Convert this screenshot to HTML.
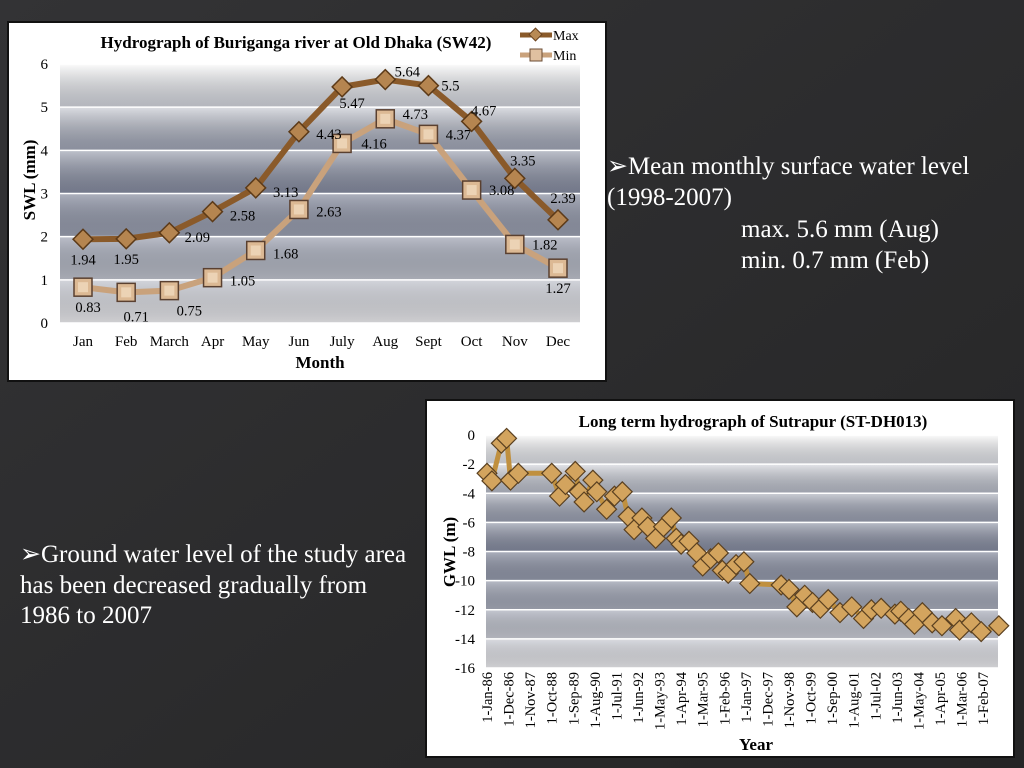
<!DOCTYPE html>
<html><head><meta charset="utf-8">
<style>
html,body{margin:0;padding:0;background:#2a2a2b;}
svg{display:block;font-family:"Liberation Serif",serif;}
</style></head>
<body>
<svg id="root" width="1024" height="768" viewBox="0 0 1024 768" xmlns="http://www.w3.org/2000/svg">
<defs>
<linearGradient id="bgGrad" x1="0" y1="0" x2="1" y2="1">
<stop offset="0" stop-color="#333335"/><stop offset="1" stop-color="#252526"/></linearGradient>
<linearGradient id="plotGrad" x1="0" y1="0" x2="0" y2="1">
<stop offset="0" stop-color="#fafafa"/><stop offset="0.3" stop-color="#a0a5b4"/>
<stop offset="0.5" stop-color="#80869a"/><stop offset="0.72" stop-color="#9ea3b2"/>
<stop offset="1" stop-color="#e6e6e9"/></linearGradient>
<linearGradient id="bandGrad" x1="0" y1="0" x2="0" y2="1">
<stop offset="0" stop-color="#fff" stop-opacity="0.35"/><stop offset="1" stop-color="#000" stop-opacity="0.1"/></linearGradient>
</defs>
<rect width="1024" height="768" fill="url(#bgGrad)"/>

<g>
<rect x="8" y="22" width="598" height="359" fill="#fff" stroke="#111" stroke-width="2"/>
<text x="296" y="48" text-anchor="middle" font-size="17" font-weight="bold">Hydrograph of Buriganga river at Old Dhaka (SW42)</text>
<g id="c1"></g>
<text x="320" y="368" text-anchor="middle" font-size="17" font-weight="bold">Month</text>
<text transform="translate(35,180) rotate(-90)" text-anchor="middle" font-size="17" font-weight="bold">SWL (mm)</text>
<g>
<g><line x1="520" y1="35" x2="552" y2="35" stroke="#8a5a2a" stroke-width="5"/><rect x="531" y="30" width="9" height="9" transform="rotate(45 535.5 34.5)" fill="#b88a55" stroke="#6b4320"/><text x="553" y="40" font-size="14">Max</text></g>
<g><line x1="520" y1="55" x2="552" y2="55" stroke="#c9a27c" stroke-width="5"/><rect x="530" y="49" width="12" height="12" fill="#e0c0a0" stroke="#6b4d35"/><text x="553" y="60" font-size="14">Min</text></g>
</g>
</g>

<g>
<rect x="426" y="400" width="588" height="357" fill="#fff" stroke="#111" stroke-width="2"/>
<text x="753" y="427" text-anchor="middle" font-size="17" font-weight="bold">Long term hydrograph of Sutrapur (ST-DH013)</text>
<g id="c2"></g>
<text x="756" y="750" text-anchor="middle" font-size="17" font-weight="bold">Year</text>
<text transform="translate(455,552) rotate(-90)" text-anchor="middle" font-size="17" font-weight="bold">GWL (m)</text>
</g>

<g fill="#fff" font-size="25">
<text x="607" y="174">➢Mean monthly surface water level</text>
<text x="607" y="205">(1998-2007)</text>
<text x="741" y="237">max. 5.6 mm (Aug)</text>
<text x="741" y="268">min. 0.7 mm (Feb)</text>
<text x="20" y="562">➢Ground water level of the study area</text>
<text x="20" y="593">has been decreased gradually from</text>
<text x="20" y="623">1986 to 2007</text>
</g>
</svg>
<script>
const months = ["Jan","Feb","March","Apr","May","Jun","July","Aug","Sept","Oct","Nov","Dec"];
const maxVals = [1.94,1.95,2.09,2.58,3.13,4.43,5.47,5.64,5.5,4.67,3.35,2.39];
const minVals = [0.83,0.71,0.75,1.05,1.68,2.63,4.16,4.73,4.37,3.08,1.82,1.27];
const yTicks1 = [0,1,2,3,4,5,6];

const gwlMonths = [0,2.5,7.3,10,12,16,33,37,40,45,47,49.5,54,56,61,65,69,72,75,79,82,86,90,94,96.5,99,103,107,110,114,118,120,123,127,131,134,150,154,158,162,166,170,174,180,186,192,196,201,208,211,215,218,222,227,232,239,241,247,252,261];
const gwlVals = [-2.63,-3.15,-0.57,-0.23,-3.1,-2.63,-2.63,-4.2,-3.4,-2.5,-3.9,-4.6,-3.1,-3.9,-5.1,-4.2,-3.9,-5.6,-6.5,-5.7,-6.3,-7.1,-6.3,-5.7,-7.1,-7.5,-7.3,-8.1,-9.0,-8.5,-8.1,-9.3,-9.5,-8.9,-8.7,-10.2,-10.3,-10.6,-11.8,-11.0,-11.5,-11.9,-11.3,-12.2,-11.8,-12.6,-12.0,-11.9,-12.3,-12.1,-12.6,-13.0,-12.2,-12.9,-13.1,-12.6,-13.4,-12.9,-13.5,-13.1];
const dateLabels = ["1-Jan-86","1-Dec-86","1-Nov-87","1-Oct-88","1-Sep-89","1-Aug-90","1-Jul-91","1-Jun-92","1-May-93","1-Apr-94","1-Mar-95","1-Feb-96","1-Jan-97","1-Dec-97","1-Nov-98","1-Oct-99","1-Sep-00","1-Aug-01","1-Jul-02","1-Jun-03","1-May-04","1-Apr-05","1-Mar-06","1-Feb-07"];
const yTicks2 = [0,-2,-4,-6,-8,-10,-12,-14,-16];

const NS="http://www.w3.org/2000/svg";
function mk(tag, attrs, parent){const e=document.createElementNS(NS,tag);for(const k in attrs)e.setAttribute(k,attrs[k]);parent.appendChild(e);return e;}

// Chart 1
(function(){
const g=document.getElementById('c1');
const L=60,R=580,T=64,B=323;
const x=i=>83+i*(558-83)/(months.length-1);
const y=v=>B-(v-0)/(6-0)*(B-T);
const bg=mk('rect',{x:L,y:T,width:R-L,height:B-T,fill:'url(#plotGrad)'},g);


for(let i=0;i<yTicks1.length-1;i++){mk('rect',{x:L,y:y(yTicks1[i+1]),width:R-L,height:y(yTicks1[i])-y(yTicks1[i+1]),fill:'url(#bandGrad)'},g);}
yTicks1.forEach(t=>{
 const ln=mk('line',{x1:L,x2:R,y1:y(t),y2:y(t),stroke:'#fff','stroke-width':1.5},g);
 
 
 const tx=mk('text',{x:48,y:y(t)+5,'text-anchor':'end','font-size':15},g);tx.textContent=t;
 
 
});
months.forEach((m,i)=>{const tx=mk('text',{x:x(i),y:346,'text-anchor':'middle','font-size':15},g);tx.textContent=m;
 
 });
const minLine=mk('polyline',{points:minVals.map((v,i)=>x(i)+','+y(v)).join(' '),fill:'none',stroke:'#c9a27c','stroke-width':6,'stroke-linejoin':'round'},g);


const maxLine=mk('polyline',{points:maxVals.map((v,i)=>x(i)+','+y(v)).join(' '),fill:'none',stroke:'#8a5a2a','stroke-width':6,'stroke-linejoin':'round'},g);


const maxOff=[[0,20],[0,20],[28,4],[30,4],[30,4],[30,2],[10,16],[22,-8],[22,0],[12,-11],[8,-18],[5,-22]];
const minOff=[[5,20],[10,24],[20,20],[30,3],[30,3],[30,2],[32,0],[30,-5],[30,0],[30,0],[30,0],[0,20]];
minVals.forEach((v,i)=>{
 const r=mk('rect',{x:x(i)-9,y:y(v)-9,width:18,height:18,fill:'#dcb994',stroke:'#5a4030','stroke-width':1.5},g);
 
 
 mk('rect',{x:x(i)-5,y:y(v)-5,width:10,height:10,fill:'#ecd3b5'},g);
 const tx=mk('text',{x:x(i)+minOff[i][0],y:y(v)+minOff[i][1]+5,'text-anchor':'middle','font-size':14.5},g);tx.textContent=v;
 
 
});
maxVals.forEach((v,i)=>{
 const r=mk('rect',{x:x(i)-7,y:y(v)-7,width:14,height:14,fill:'#b58550',stroke:'#5c3a18','stroke-width':1.5,transform:`rotate(45 ${x(i)} ${y(v)})`},g);
 
 
 const tx=mk('text',{x:x(i)+maxOff[i][0],y:y(v)+maxOff[i][1]+5,'text-anchor':'middle','font-size':14.5},g);tx.textContent=v;
 
 
});
})();

// Chart 2
(function(){
const g=document.getElementById('c2');
const L=486,R=998,T=435,B=668;
const x=m=>487+m*1.961;
const y=v=>T+(0-v)/16*(B-T);
const bg=mk('rect',{x:L,y:T,width:R-L,height:B-T,fill:'url(#plotGrad)'},g);


for(let i=0;i<yTicks2.length-1;i++){mk('rect',{x:L,y:y(yTicks2[i]),width:R-L,height:y(yTicks2[i+1])-y(yTicks2[i]),fill:'url(#bandGrad)'},g);}
yTicks2.forEach(t=>{
 const ln=mk('line',{x1:L,x2:R,y1:y(t),y2:y(t),stroke:'#fff','stroke-width':1.5},g);
 
 
 const tx=mk('text',{x:475,y:y(t)+5,'text-anchor':'end','font-size':15},g);tx.textContent=t;
 
 
});
dateLabels.forEach((d,i)=>{
 const px=487+i*11*1.961;
 const tx=mk('text',{x:0,y:0,'text-anchor':'end','font-size':14.5,transform:`translate(${px+5},672) rotate(-90)`},g);tx.textContent=d;
 
 
});
const ln=mk('polyline',{points:gwlMonths.map((m,i)=>x(m)+','+y(gwlVals[i])).join(' '),fill:'none',stroke:'#c0903f','stroke-width':5,'stroke-linejoin':'round'},g);


gwlMonths.forEach((m,i)=>{
 const r=mk('rect',{x:x(m)-7,y:y(gwlVals[i])-7,width:14,height:14,fill:'#d3a45e',stroke:'#5a4020','stroke-width':1.2,transform:`rotate(45 ${x(m)} ${y(gwlVals[i])})`},g);
 
 
});
})();
</script>
</body></html>
